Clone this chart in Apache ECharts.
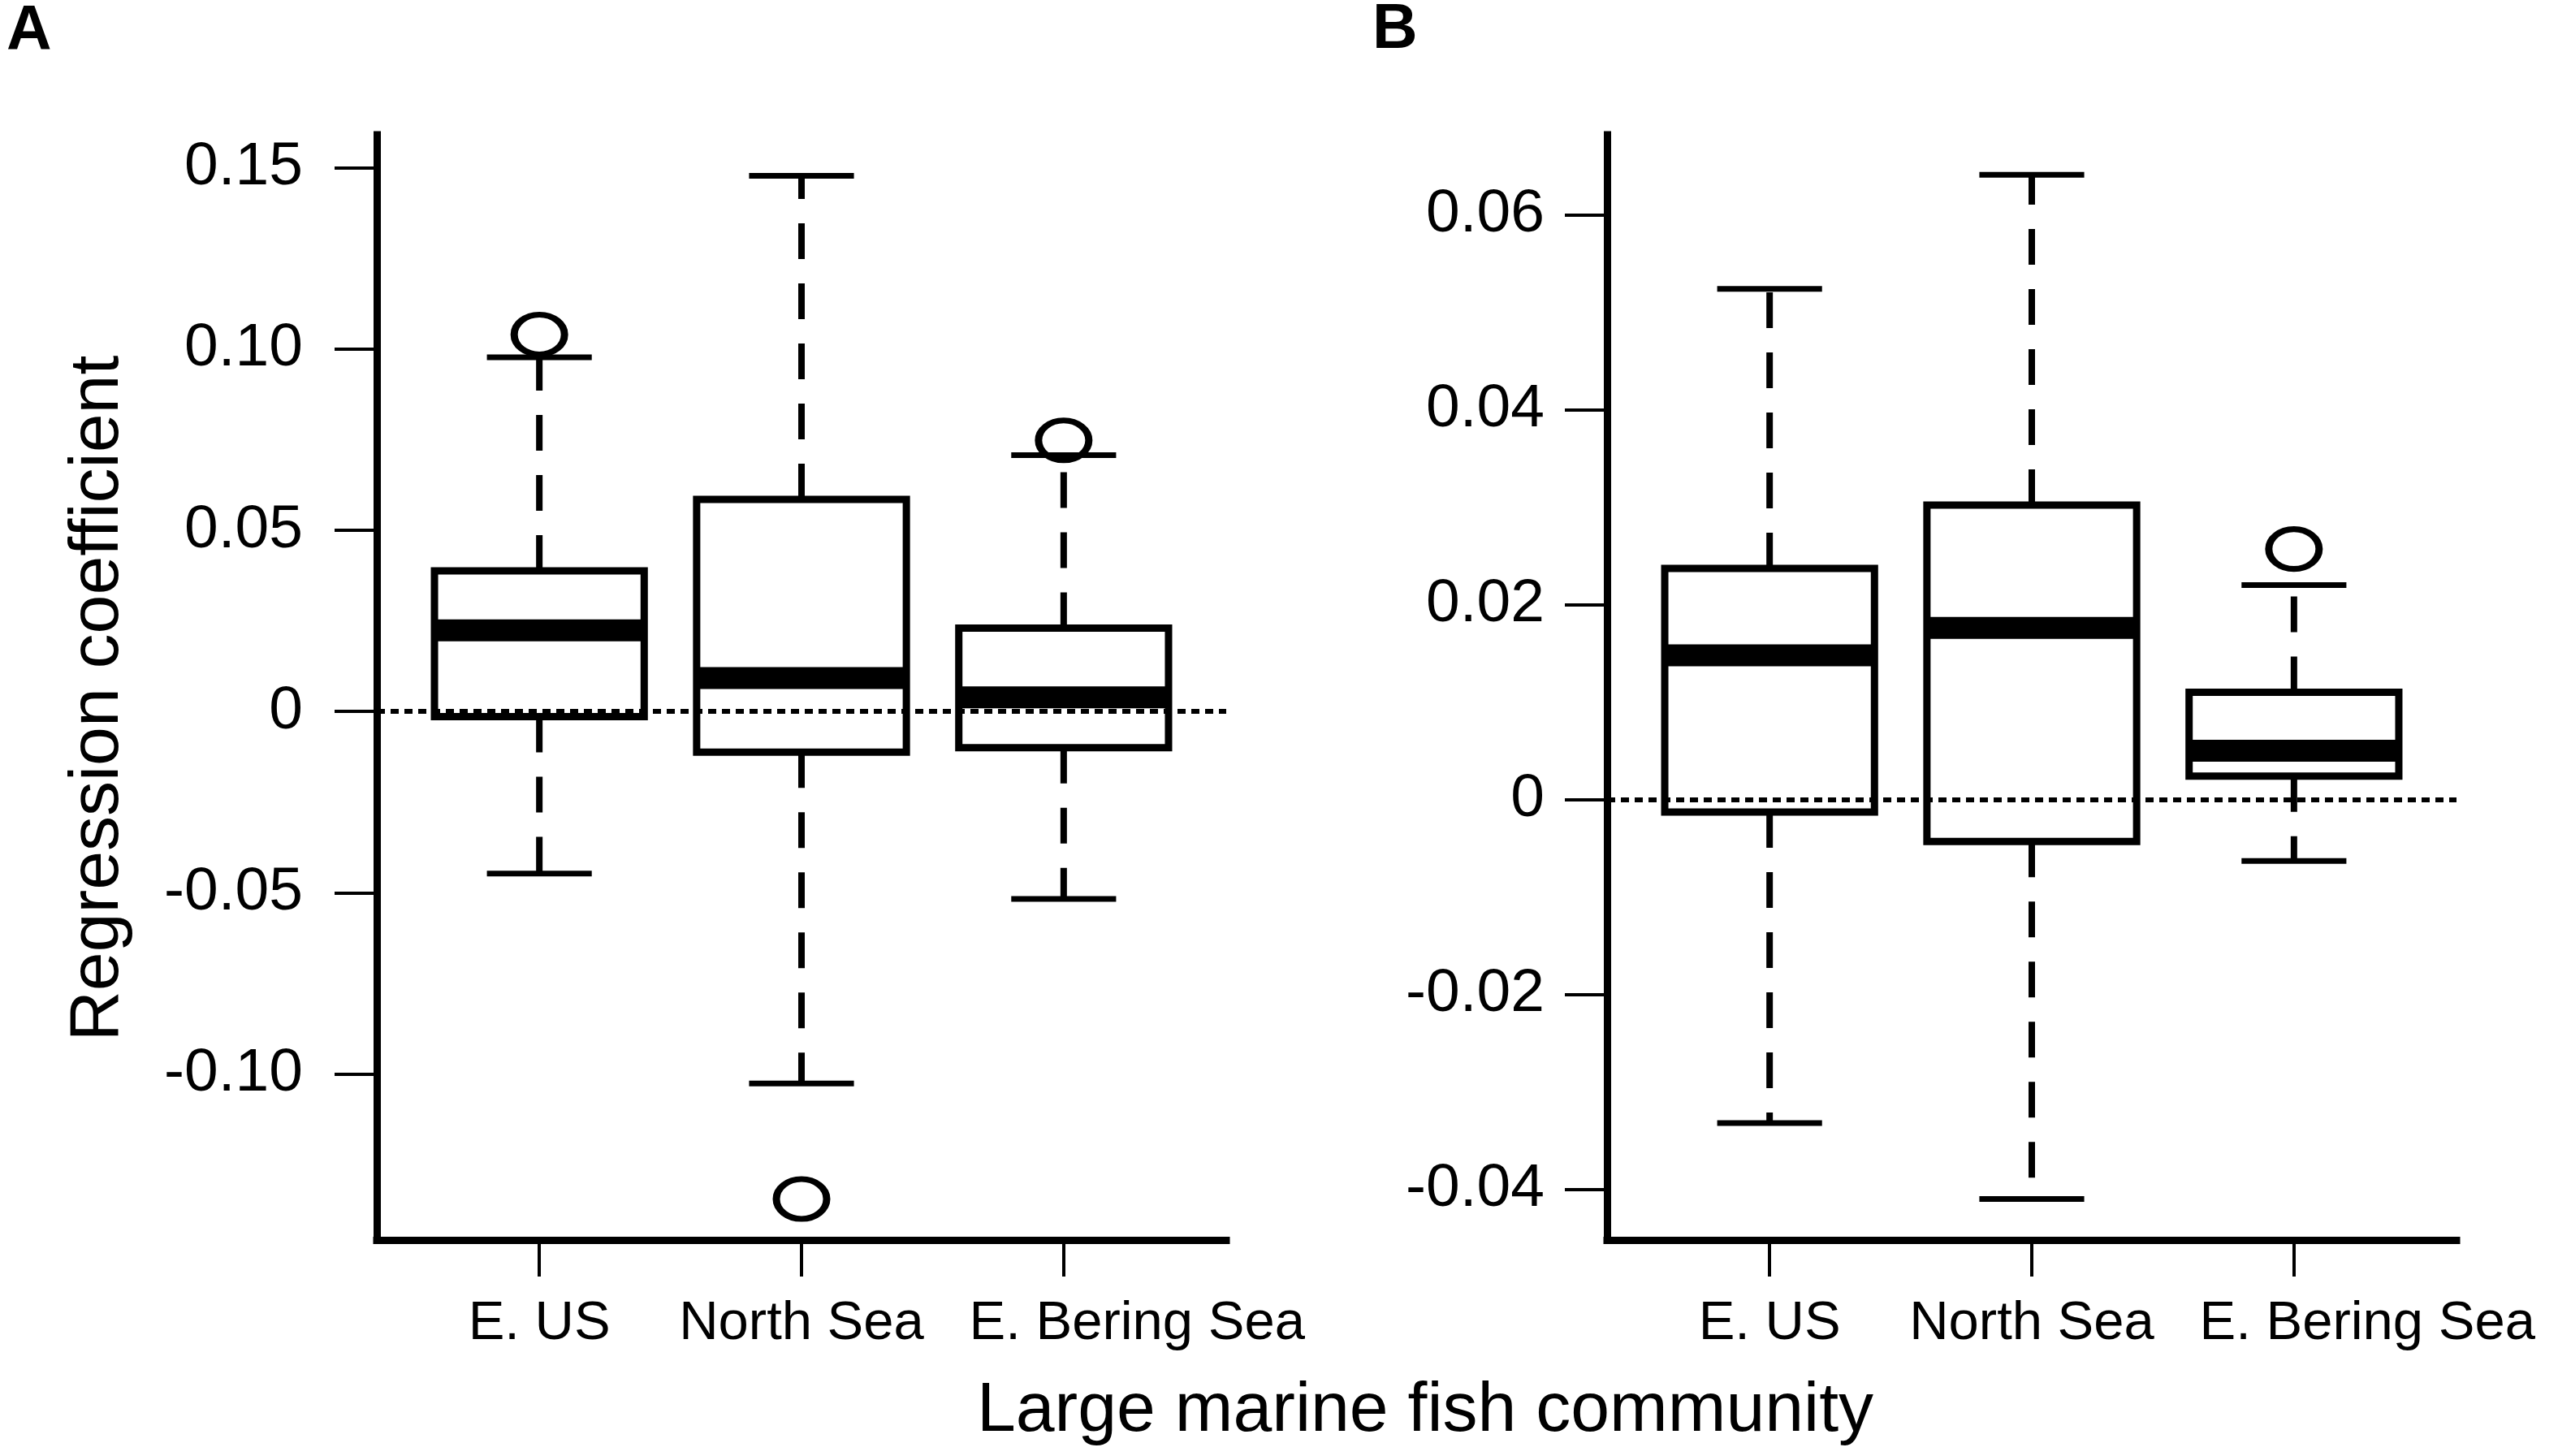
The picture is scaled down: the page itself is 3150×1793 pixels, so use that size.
<!DOCTYPE html>
<html>
<head>
<meta charset="utf-8">
<script src="https://cdn.jsdelivr.net/npm/echarts@6.0.0/dist/echarts.min.js"></script>
<style>
  html, body { margin: 0; padding: 0; background: #fff; }
  #main { width: 3150px; height: 1793px; }
</style>
</head>
<body>
<div id="main"></div>
<script>
var FONT = "'Liberation Sans', Arial, Helvetica, sans-serif";

// categories (x positions 0,1,2)
var communities = ['E. US', 'North Sea', 'E. Bering Sea'];

// panel A: [lower whisker, Q1, median, Q3, upper whisker]
var statsA = [
	[-0.0447, -0.0014, 0.0224, 0.0388, 0.0977],
	[-0.1026, -0.0112, 0.0092, 0.0585, 0.1478],
	[-0.0517, -0.0100, 0.0039, 0.0230, 0.0707]
];
// outliers [category index, value]
var outliersA = [[0, 0.1040], [1, -0.1345], [2, 0.0748]];
var yTicksA = [-0.10, -0.05, 0, 0.05, 0.10, 0.15];
var yTickLabelsA = ['-0.10', '-0.05', '0', '0.05', '0.10', '0.15'];
var yRangeA = [-0.1458, 0.1591];

// panel B
var statsB = [
	[-0.0332, -0.0013, 0.0148, 0.0237, 0.0524],
	[-0.0410, -0.0043, 0.0176, 0.0302, 0.0641],
	[-0.0063, 0.0024, 0.0050, 0.0110, 0.0220]
];
var outliersB = [[2, 0.0257]];
var yTicksB = [-0.04, -0.02, 0, 0.02, 0.04, 0.06];
var yTickLabelsB = ['-0.04', '-0.02', '0', '0.02', '0.04', '0.06'];
var yRangeB = [-0.0452, 0.0682];

var xTicks = [0, 1, 2];
var xRange = [-0.62, 2.62];
// the last category label sits a little right of its tick in the original figure
var xLabelAt = [0, 1, 2.28];

// box, whiskers, caps and median drawn through the axes
function renderBox(params, api) {
	var x = api.value(0);
	var lo = api.coord([x, api.value(1)]);
	var q1 = api.coord([x, api.value(2)]);
	var md = api.coord([x, api.value(3)]);
	var q3 = api.coord([x, api.value(4)]);
	var hi = api.coord([x, api.value(5)]);
	var half = api.size([1, 0])[0] * 0.4;
	var cap = half / 2;
	var cx = md[0];
	var dash = { stroke: '#000', lineWidth: 8, lineDash: [44, 30], fill: null };
	var solid = { stroke: '#000', lineWidth: 7, fill: null };
	return {
		type: 'group',
		children: [
			{ type: 'line', shape: { x1: cx, y1: q3[1], x2: cx, y2: hi[1] }, style: dash },
			{ type: 'line', shape: { x1: cx, y1: q1[1], x2: cx, y2: lo[1] }, style: dash },
			{ type: 'line', shape: { x1: cx - cap, y1: hi[1], x2: cx + cap, y2: hi[1] }, style: solid },
			{ type: 'line', shape: { x1: cx - cap, y1: lo[1], x2: cx + cap, y2: lo[1] }, style: solid },
			{ type: 'rect', shape: { x: cx - half, y: q3[1], width: 2 * half, height: q1[1] - q3[1] },
				style: { fill: '#fff', stroke: '#000', lineWidth: 9 } },
			{ type: 'line', shape: { x1: cx - half, y1: md[1], x2: cx + half, y2: md[1] },
				style: { stroke: '#000', lineWidth: 27 } }
		]
	};
}

function makeX(gi) {
	return {
		type: 'value',
		gridIndex: gi,
		min: xRange[0],
		max: xRange[1],
		splitLine: { show: false },
		axisLine: { show: true, onZero: false, lineStyle: { color: '#000', width: 9, cap: 'square' } },
		axisTick: { show: true, customValues: xTicks.slice(), length: 45, lineStyle: { color: '#000', width: 4 } },
		axisLabel: {
			customValues: xLabelAt.slice(),
			showMinLabel: true,
			showMaxLabel: true,
			hideOverlap: false,
			margin: 70,
			color: '#000',
			fontSize: 67,
			fontFamily: FONT,
			formatter: function (v) { return communities[Math.round(v)]; }
		}
	};
}

function makeY(gi, range, ticks, labels, margin) {
	return {
		type: 'value',
		gridIndex: gi,
		min: range[0],
		max: range[1],
		splitLine: { show: false },
		axisLine: { show: true, onZero: false, lineStyle: { color: '#000', width: 9, cap: 'square' } },
		axisTick: { show: true, customValues: ticks, length: 52, lineStyle: { color: '#000', width: 4 } },
		axisLabel: {
			customValues: ticks,
			showMinLabel: true,
			showMaxLabel: true,
			margin: margin,
			color: '#000',
			fontSize: 75,
			fontFamily: FONT,
			formatter: function (v) {
				for (var i = 0; i < ticks.length; i++) {
					if (Math.abs(ticks[i] - v) < 1e-9) return labels[i];
				}
				return '';
			}
		}
	};
}

function boxSeries(gi, stats) {
	return {
		type: 'custom',
		xAxisIndex: gi,
		yAxisIndex: gi,
		z: 2,
		clip: false,
		renderItem: renderBox,
		encode: { x: 0, y: [1, 2, 3, 4, 5] },
		data: stats.map(function (s, i) { return [i].concat(s); })
	};
}

function outlierSeries(gi, pts) {
	return {
		type: 'scatter',
		xAxisIndex: gi,
		yAxisIndex: gi,
		z: 3,
		symbol: 'circle',
		symbolSize: [62, 49],
		itemStyle: { color: 'rgba(0,0,0,0)', borderColor: '#000', borderWidth: 8, opacity: 1 },
		data: pts,
		markLine: {
			silent: true,
			symbol: ['none', 'none'],
			label: { show: false },
			lineStyle: { color: '#000', width: 6, type: [10, 7], opacity: 1 },
			data: [{ yAxis: 0 }]
		}
	};
}

var myChart = echarts.init(document.getElementById('main'));

var option = {
	animation: false,
	backgroundColor: '#fff',
	grid: [
		{ left: 464, top: 166, width: 1046, height: 1361, outerBoundsMode: 'none' },
		{ left: 1979, top: 166, width: 1046, height: 1361, outerBoundsMode: 'none' }
	],
	xAxis: [makeX(0), makeX(1)],
	yAxis: [
		makeY(0, yRangeA, yTicksA, yTickLabelsA, 91),
		makeY(1, yRangeB, yTicksB, yTickLabelsB, 77)
	],
	series: [
		boxSeries(0, statsA),
		outlierSeries(0, outliersA),
		boxSeries(1, statsB),
		outlierSeries(1, outliersB)
	],
	graphic: [
		{ type: 'text', x: 8, y: 40, style: { text: 'A', fill: '#000', fontSize: 77, fontWeight: 'bold', fontFamily: FONT, align: 'left', verticalAlign: 'middle' } },
		{ type: 'text', x: 1690, y: 38, style: { text: 'B', fill: '#000', fontSize: 77, fontWeight: 'bold', fontFamily: FONT, align: 'left', verticalAlign: 'middle' } },
		{ type: 'text', x: 121, y: 860, rotation: Math.PI / 2, style: { text: 'Regression coefficient', fill: '#000', fontSize: 86, fontFamily: FONT, align: 'center', verticalAlign: 'middle' } },
		{ type: 'text', x: 1755, y: 1738, style: { text: 'Large marine fish community', fill: '#000', fontSize: 86, fontFamily: FONT, align: 'center', verticalAlign: 'middle' } }
	]
};

myChart.setOption(option);
</script>
</body>
</html>
